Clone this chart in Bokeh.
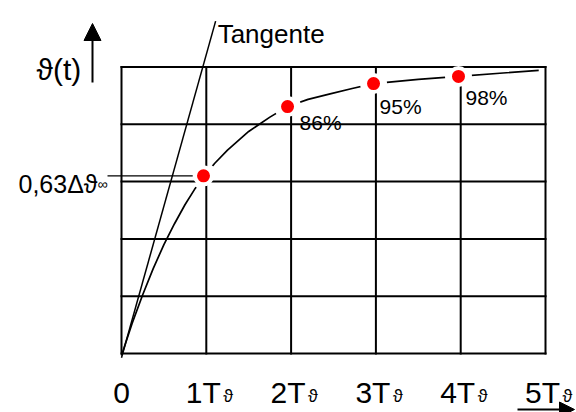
from bokeh.plotting import figure
from bokeh.models import Arrow, NormalHead, Range1d
from bokeh.core.properties import value
from bokeh.embed import file_html
from bokeh.resources import INLINE

# ---- data ----
x_ticks = [0, 1, 2, 3, 4, 5]
tick_main = ["0", "1T", "2T", "3T", "4T", "5T"]
tick_sub = ["", "ϑ", "ϑ", "ϑ", "ϑ", "ϑ"]
y_grid = [0.0, 0.2, 0.4, 0.6, 0.8, 1.0]

curve_t = [0.0, 0.125, 0.25, 0.375, 0.5, 0.625, 0.75, 0.86, 0.975, 1.1, 1.25, 1.5, 1.75, 1.96,
           2.2, 2.46, 2.72, 2.972, 3.5, 3.974, 4.5, 4.92]
curve_y = [-0.007, 0.105, 0.205, 0.297, 0.38, 0.453, 0.52, 0.572, 0.619, 0.664, 0.71, 0.775,
           0.825, 0.862, 0.887, 0.906, 0.925, 0.942, 0.957, 0.967, 0.979, 0.988]

mark_t = [0.967, 1.958, 2.972, 3.974]
mark_y = [0.620, 0.862, 0.942, 0.967]
mark_labels = ["", "86%", "95%", "98%"]

tangent_t = [0.0, 1.11]
tangent_y = [-0.015, 1.16]

leader_t = [-0.165, 0.84]
leader_label_main = "0,63Δϑ"
leader_label_sub = "∞"

# ---- pixel <-> data helpers (picture pixels) ----
PX0, PXS = 121.0, 84.8   # x of t=0, px per T
PY0, PYS = 353.0, 286.5  # y of 0, px per unit


def dx(px):
    return (px - PX0) / PXS


def dy(py):
    return (PY0 - py) / PYS


W, H = 576, 412
p = figure(width=W, height=H, output_backend="svg", toolbar_location=None,
           x_axis_type=None, y_axis_type=None, min_border=0,
           x_range=Range1d(dx(0), dx(W)), y_range=Range1d(dy(H), dy(0)))
p.outline_line_color = None
p.background_fill_color = "white"
p.border_fill_color = "white"

FONT = value("Liberation Sans")

# curve and tangent
p.line(curve_t, curve_y, line_color="black", line_width=1.7, line_join="round")
p.line(tangent_t, tangent_y, line_color="black", line_width=1.5)

# large white gaps in the curve around the points
p.scatter(mark_t, mark_y, size=27, fill_color="white", line_color=None)

# grid
n = len(x_ticks)
p.segment(x0=x_ticks, y0=[y_grid[0]] * n, x1=x_ticks, y1=[y_grid[-1]] * n,
          line_color="black", line_width=2, line_cap="square")
m = len(y_grid)
p.segment(x0=[x_ticks[0]] * m, y0=y_grid, x1=[x_ticks[-1]] * m, y1=y_grid,
          line_color="black", line_width=2, line_cap="square")

# smaller white halo that breaks grid lines
p.scatter(mark_t, mark_y, size=21, fill_color="white", line_color=None)

# leader line for 0.63
p.line(leader_t, [mark_y[0], mark_y[0]], line_color="black", line_width=1.3)

# red points
p.scatter(mark_t, mark_y, size=13, fill_color="red", line_color=None)

# percent labels
lab_dx = [0, 12, 6, 7]
lab_dy = [0, 16, 23, 21]
p.text(x=mark_t[1:], y=mark_y[1:], text=mark_labels[1:],
       x_offset=lab_dx[1:], y_offset=lab_dy[1:],
       text_font=FONT, text_font_size="21px", text_align="left",
       text_baseline="alphabetic", text_color="black")

# tick labels
p.text(x=[x_ticks[0]], y=[dy(392)], text=[tick_main[0]], text_font=FONT,
       text_font_size="30px", text_align="center", text_baseline="alphabetic")
p.text(x=x_ticks[1:], y=[dy(392)] * (n - 1), text=tick_main[1:], x_offset=14.5,
       text_font=FONT, text_font_size="30px", text_align="right", text_baseline="alphabetic")
p.text(x=x_ticks[1:], y=[dy(395)] * (n - 1), text=tick_sub[1:], x_offset=17,
       text_font=FONT, text_font_size="18px", text_align="left", text_baseline="alphabetic")

# y label and arrow
p.text(x=[dx(36)], y=[dy(69)], text=["ϑ(t)"], text_font=FONT, text_font_size="30px",
       text_align="left", text_baseline="alphabetic")
p.add_layout(Arrow(end=NormalHead(size=17, fill_color="black", line_color="black", line_width=1),
                   x_start=dx(92), y_start=dy(82), x_end=dx(92), y_end=dy(23),
                   line_color="black", line_width=2))

# x arrow
p.add_layout(Arrow(end=NormalHead(size=15, fill_color="black", line_color="black", line_width=1),
                   x_start=dx(517), y_start=dy(409), x_end=dx(574), y_end=dy(409),
                   line_color="black", line_width=2))

# 0,63 label
p.text(x=[leader_t[0]], y=[dy(183)], text=[leader_label_main], x_offset=-10,
       text_font=FONT, text_font_size="25px", text_align="right", text_baseline="alphabetic")
p.text(x=[leader_t[0]], y=[dy(183)], text=[leader_label_sub], x_offset=-10,
       text_font=FONT, text_font_size="14px", text_align="left", text_baseline="alphabetic")

# Tangente label
p.text(x=[tangent_t[1]], y=[dy(33)], text=["Tangente"], x_offset=2,
       text_font=FONT, text_font_size="26px", text_align="left", text_baseline="alphabetic")

open("out.html", "w").write(file_html(p, INLINE))
